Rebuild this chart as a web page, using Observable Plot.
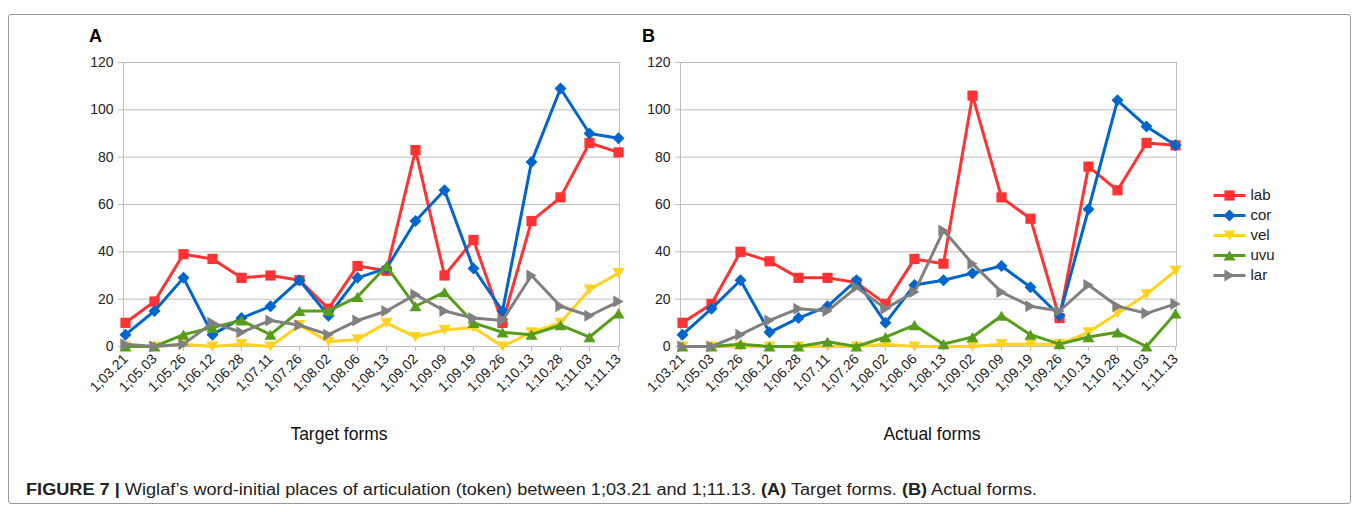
<!DOCTYPE html>
<html>
<head>
<meta charset="utf-8">
<script src="https://cdn.jsdelivr.net/npm/d3@7"></script>
<script src="https://cdn.jsdelivr.net/npm/@observablehq/plot@0.6"></script>
<style>
  body { margin: 0; background: #fff; font-family: "Liberation Sans", Arial, sans-serif; }
  #fig { position: relative; width: 1360px; height: 512px; overflow: hidden; background: #fff; }
  #box { position: absolute; left: 8px; top: 14px; width: 1343px; height: 490px; border: 1px solid #9a9a9a; border-radius: 3px; box-sizing: border-box; }
  .panel { position: absolute; }
  .letter { position: absolute; font-weight: bold; font-size: 18px; color: #000; line-height: 1; }
  .xtitle { position: absolute; font-size: 17.5px; color: #111; transform: translateX(-50%); white-space: nowrap; line-height: 1; }
  #caption { position: absolute; left: 26px; top: 482px; font-family: "Liberation Sans", Arial, sans-serif; font-size: 16px; color: #222; white-space: nowrap; line-height: 1; transform-origin: 0 0; }
</style>
</head>
<body>
<div id="fig">
  <div id="box"></div>
  <div class="letter" style="left:89px;top:27px">A</div>
  <div class="letter" style="left:642px;top:27px">B</div>
  <div id="panelA" class="panel" style="left:60px;top:40px"></div>
  <div id="panelB" class="panel" style="left:617px;top:40px"></div>
  <div id="legend" class="panel" style="left:1213px;top:185px"></div>
  <div class="xtitle" style="left:339px;top:426px">Target forms</div>
  <div class="xtitle" style="left:932px;top:426px">Actual forms</div>
  <div id="caption"><b>FIGURE 7 |</b> Wiglaf’s word-initial places of articulation (token) between 1;03.21 and 1;11.13. <b>(A)</b> Target forms. <b>(B)</b> Actual forms.</div>
</div>
<script>
// Recording dates (age in years;months.days)
const dates = ["1;03.21", "1;05.03", "1;05.26", "1;06.12", "1;06.28", "1;07.11", "1;07.26", "1;08.02", "1;08.06",
  "1;08.13", "1;09.02", "1;09.09", "1;09.19", "1;09.26", "1;10.13", "1;10.28", "1;11.03", "1;11.13"];

// Places of articulation and their colours
const seriesNames = ["lab", "cor", "vel", "uvu", "lar"];
const seriesColors = ["#ff3333", "#0066cc", "#ffd320", "#579d1c", "#808080"];
const yTicks = [0, 20, 40, 60, 80, 100, 120];

// Token counts, target forms
const labTarget = [10, 19, 39, 37, 29, 30, 28, 16, 34, 32, 83, 30, 45, 10, 53, 63, 86, 82];
const corTarget = [5, 15, 29, 5, 12, 17, 28, 13, 29, 33, 53, 66, 33, 15, 78, 109, 90, 88];
const velTarget = [0, 0, 1, 0, 1, 0, 9, 2, 3, 10, 4, 7, 8, 0, 6, 10, 24, 31];
const uvuTarget = [0, 0, 5, 8, 11, 5, 15, 15, 21, 34, 17, 23, 10, 6, 5, 9, 4, 14];
const larTarget = [1, 0, 1, 10, 6, 11, 9, 5, 11, 15, 22, 15, 12, 11, 30, 17, 13, 19];

// Token counts, actual forms
const labActual = [10, 18, 40, 36, 29, 29, 27, 18, 37, 35, 106, 63, 54, 12, 76, 66, 86, 85];
const corActual = [5, 16, 28, 6, 12, 17, 28, 10, 26, 28, 31, 34, 25, 13, 58, 104, 93, 85];
const velActual = [0, 0, 0, 0, 0, 0, 0, 1, 0, 0, 0, 1, 1, 1, 6, 14, 22, 32];
const uvuActual = [0, 0, 1, 0, 0, 2, 0, 4, 9, 1, 4, 13, 5, 1, 4, 6, 0, 14];
const larActual = [0, 0, 5, 11, 16, 15, 25, 16, 23, 49, 35, 23, 17, 15, 26, 17, 14, 18];

// Marker shapes (size = π r²)
const rad = (size) => Math.sqrt(size / Math.PI);
const symSquare = { draw(c, size) { const h = rad(size) * 0.85; c.moveTo(-h, -h); c.lineTo(h, -h); c.lineTo(h, h); c.lineTo(-h, h); c.closePath(); } };
const symDiamond = { draw(c, size) { const h = rad(size); c.moveTo(0, -h); c.lineTo(h, 0); c.lineTo(0, h); c.lineTo(-h, 0); c.closePath(); } };
const symDown = { draw(c, size) { const r = rad(size); c.moveTo(-r, -0.85 * r); c.lineTo(r, -0.85 * r); c.lineTo(0, 0.85 * r); c.closePath(); } };
const symUp = { draw(c, size) { const r = rad(size); c.moveTo(-r, 0.85 * r); c.lineTo(r, 0.85 * r); c.lineTo(0, -0.85 * r); c.closePath(); } };
const symRight = { draw(c, size) { const r = rad(size); c.moveTo(-0.85 * r, -r); c.lineTo(0.85 * r, 0); c.lineTo(-0.85 * r, r); c.closePath(); } };
const seriesSymbols = [symSquare, symDiamond, symDown, symUp, symRight];

const grey = "#bdbdbd";
const font = "'Liberation Sans', Arial, sans-serif";

function panel(values) {
  const rows = [];
  seriesNames.forEach((s, i) => values[i].forEach((v, j) => rows.push({ date: dates[j], series: s, value: v })));
  const seriesMarks = seriesNames.flatMap((s, i) => {
    const sub = rows.filter((d) => d.series === s);
    return [
      Plot.line(sub, { x: "date", y: "value", stroke: seriesColors[i], strokeWidth: 3 }),
      Plot.dot(sub, { x: "date", y: "value", fill: seriesColors[i], stroke: "none", symbol: seriesSymbols[i], r: 6 })
    ];
  });
  return Plot.plot({
    width: 580,
    height: 380,
    marginLeft: 63,
    marginRight: 21,
    marginTop: 22,
    marginBottom: 74,
    style: { fontFamily: font, fontSize: "14px", background: "transparent", overflow: "visible" },
    x: { type: "point", domain: dates, padding: 0, label: null },
    y: { domain: [0, 120], label: null },
    marks: [
      Plot.gridY({ ticks: yTicks, stroke: grey, strokeOpacity: 1 }),
      Plot.frame({ stroke: grey }),
      Plot.axisY({ ticks: yTicks, tickSize: 5, tickPadding: 5, stroke: grey, fill: "#222", fontSize: 14, fontFamily: font, label: null }),
      Plot.axisX({ tickSize: 5, tickPadding: 5, tickRotate: -45, stroke: grey, fill: "#222", fontSize: 14, fontFamily: font, label: null }),
      ...seriesMarks
    ]
  });
}

document.getElementById("panelA").append(panel([labTarget, corTarget, velTarget, uvuTarget, larTarget]));
document.getElementById("panelB").append(panel([labActual, corActual, velActual, uvuActual, larActual]));

// Legend: one swatch line with its marker per series
const legendRows = seriesNames.map((s, i) => ({ series: s, color: seriesColors[i] }));
const legend = Plot.plot({
  width: 100,
  height: 100,
  marginLeft: 0,
  marginRight: 68,
  marginTop: 10,
  marginBottom: 10,
  style: { fontFamily: font, fontSize: "14px", background: "transparent", overflow: "visible" },
  x: { domain: [0, 1], axis: null },
  y: { type: "point", domain: seriesNames, padding: 0, axis: null },
  marks: [
    Plot.link(legendRows, { x1: 0, x2: 1, y1: "series", y2: "series", stroke: "color", strokeWidth: 3 }),
    ...legendRows.map((d, i) => Plot.dot([d], { x: 0.5, y: "series", fill: d.color, stroke: "none", symbol: seriesSymbols[i], r: 6 })),
    Plot.text(legendRows, { x: 1, y: "series", text: "series", textAnchor: "start", dx: 5, fill: "#222", fontSize: 15, fontFamily: font })
  ]
});
document.getElementById("legend").append(legend);

// Caption set in a narrow face: compress horizontally to its column width
const caption = document.getElementById("caption");
const captionWidth = 1011;
caption.style.transform = `scaleX(${captionWidth / caption.getBoundingClientRect().width})`;
</script>
</body>
</html>
